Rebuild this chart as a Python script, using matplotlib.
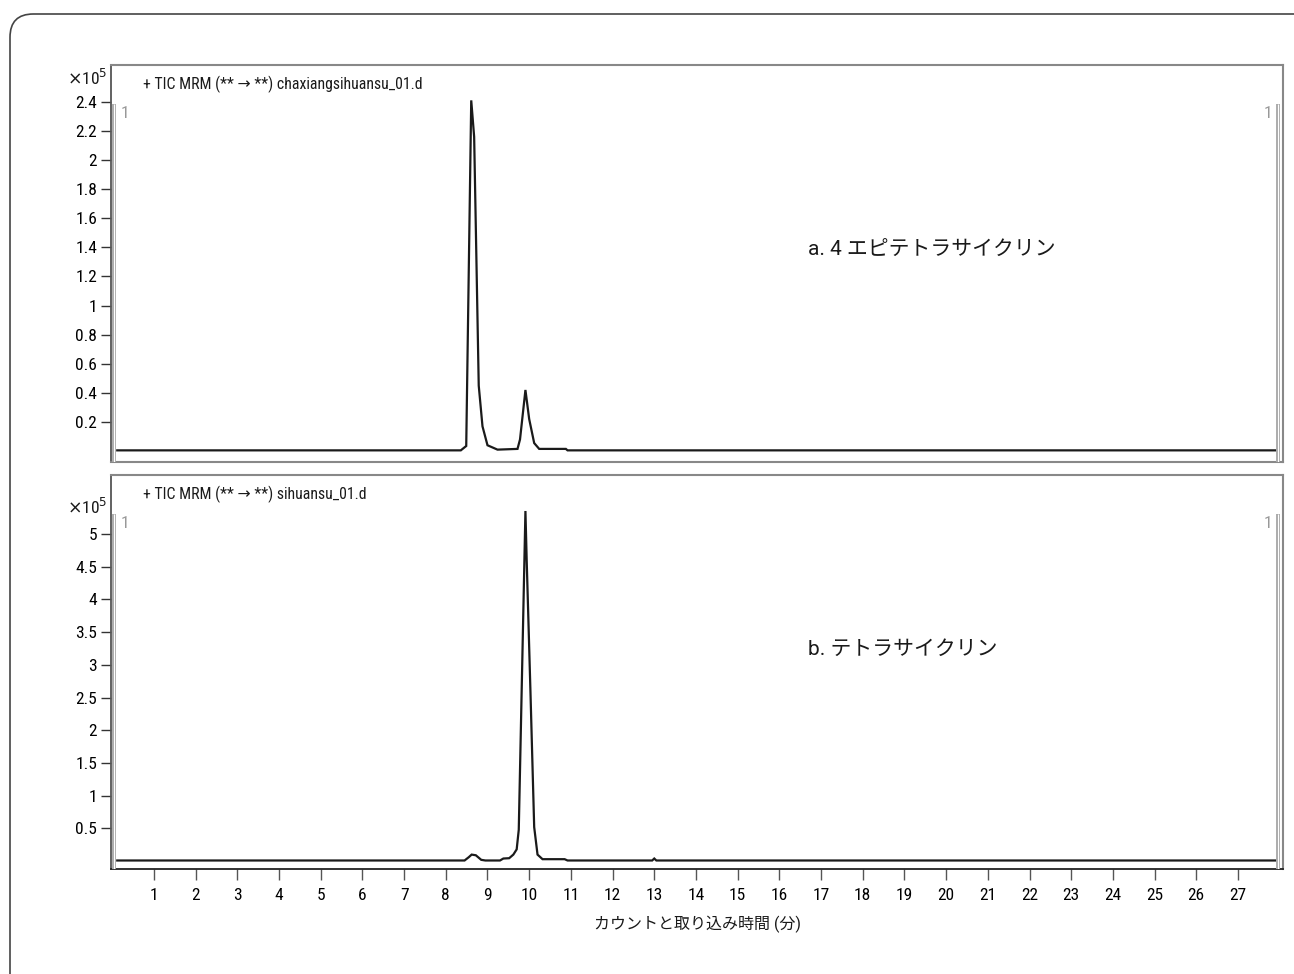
import numpy as np
import matplotlib
matplotlib.use('Agg')
import matplotlib.pyplot as plt
from matplotlib.patches import FancyBboxPatch

latin = ['Roboto Condensed', 'Liberation Sans Narrow', 'Roboto', 'DejaVu Sans']
cjk = ['Roboto', 'Noto Sans CJK JP', 'DejaVu Sans']
plt.rcParams['font.family'] = latin

# chromatogram a: 4-epitetracycline (x1e5 counts)
t_a = [0.12, 8.36, 8.49, 8.61, 8.68, 8.79, 8.88, 9.0, 9.24, 9.72, 9.78,
       9.91, 10.0, 10.12, 10.24, 10.88, 10.92, 27.9]
i_a = [0.005, 0.005, 0.035, 2.41, 2.16, 0.45, 0.17, 0.04, 0.01, 0.015, 0.08,
       0.42, 0.22, 0.055, 0.015, 0.015, 0.005, 0.005]

# chromatogram b: tetracycline (x1e5 counts)
t_b = [0.12, 8.45, 8.55, 8.62, 8.72, 8.85, 8.95, 9.3, 9.38, 9.52, 9.62, 9.7,
       9.75, 9.91, 9.94, 10.03, 10.12, 10.2, 10.32, 10.85, 10.92, 12.95, 13.0,
       13.05, 27.9]
i_b = [0.01, 0.01, 0.06, 0.1, 0.09, 0.02, 0.01, 0.01, 0.04, 0.045, 0.1, 0.18,
       0.48, 5.35, 4.6, 2.6, 0.52, 0.1, 0.03, 0.03, 0.01, 0.01, 0.04,
       0.01, 0.01]

ticks_a = [0.2, 0.4, 0.6, 0.8, 1, 1.2, 1.4, 1.6, 1.8, 2, 2.2, 2.4]
ticks_b = [0.5, 1, 1.5, 2, 2.5, 3, 3.5, 4, 4.5, 5]
x_ticks = list(range(1, 28))

titles = ['+ TIC MRM (** \u2192 **) chaxiangsihuansu_01.d',
          '+ TIC MRM (** \u2192 **) sihuansu_01.d']
labels = ['a. 4 エピテトラサイクリン', 'b. テトラサイクリン']
xlabel = 'カウントと取り込み時間 (分)'

W, H = 1294, 974
fig = plt.figure(figsize=(W / 100, H / 100), dpi=100)

# rounded outer frame
frame = FancyBboxPatch((10 / W, -30 / H), 1400 / W, (H - 14 + 30) / H,
                       boxstyle='round,pad=0,rounding_size=0.018',
                       transform=fig.transFigure, fc='none', ec='#444444',
                       lw=1.2, mutation_aspect=W / H)
fig.patches.append(frame)

def fpos(x0, y0, x1, y1):
    return [x0 / W, 1 - y1 / H, (x1 - x0) / W, (y1 - y0) / H]

ax_a = fig.add_axes(fpos(111, 65, 1283, 462))
ax_b = fig.add_axes(fpos(111, 475, 1283, 869))

ink = '#1a1a1a'

for ax, t, v, yt, ylim, title, lab, ly in [
        (ax_a, t_a, i_a, ticks_a, (-0.075, 2.653), titles[0], labels[0], 1.38),
        (ax_b, t_b, i_b, ticks_b, (-0.12, 5.9), titles[1], labels[1], 3.23)]:
    ax.plot(t, v, color=ink, lw=1.6, solid_joinstyle='miter')
    ax.set_xlim(-0.03, 28.08)
    ax.set_ylim(*ylim)
    ax.set_yticks(yt)
    ax.set_yticklabels([f'{y:g}' for y in yt])
    ax.tick_params(axis='y', direction='out', length=7, width=1, color='#333333',
                   labelsize=12.5, pad=3)
    for s in ['top', 'right']:
        ax.spines[s].set_color('#888888')
        ax.spines[s].set_linewidth(1.5)
    ax.spines['left'].set_color('#555555')
    ax.spines['left'].set_linewidth(1.3)
    # marker bars with "1"
    for xb in [0.045, 27.97]:
        ax.plot([xb, xb], [ylim[0], ylim[1] * 0.9], color='#aaaaaa', lw=2.8,
                solid_capstyle='butt', zorder=3)
        ax.plot([xb, xb], [ylim[0], ylim[1] * 0.9], color='white', lw=0.8,
                solid_capstyle='butt', zorder=3)
    ax.text(0.2, ylim[1] * 0.875, '1', color='#999999', fontsize=12.5,
            ha='left', va='center')
    ax.text(27.83, ylim[1] * 0.875, '1', color='#999999', fontsize=12.5,
            ha='right', va='center')
    ax.text(0.027, 0.972, title, transform=ax.transAxes, fontsize=11.3,
            ha='left', va='top', color=ink)
    ax.text(16.68, ly, lab, fontsize=15, ha='left', va='center', color=ink,
            family=cjk)
    ax.text(-0.003, yt[-1] + (yt[1] - yt[0]) * 0.82, r'$\times$10$^5$',
            transform=ax.get_yaxis_transform(), fontsize=12.5, ha='right',
            va='center', color=ink)

ax_a.set_xticks([])
ax_a.spines['bottom'].set_color('#888888')
ax_a.spines['bottom'].set_linewidth(1.5)

ax_b.set_xticks(x_ticks)
ax_b.tick_params(axis='x', direction='out', length=8, width=1, color='#555555',
                 labelsize=12.5, pad=6)
ax_b.spines['bottom'].set_color('#222222')
ax_b.spines['bottom'].set_linewidth(1.3)
ax_b.set_xlabel(xlabel, fontsize=11.5, family=cjk, labelpad=9, color=ink)

fig.savefig('out.png', dpi=100, facecolor='white')
